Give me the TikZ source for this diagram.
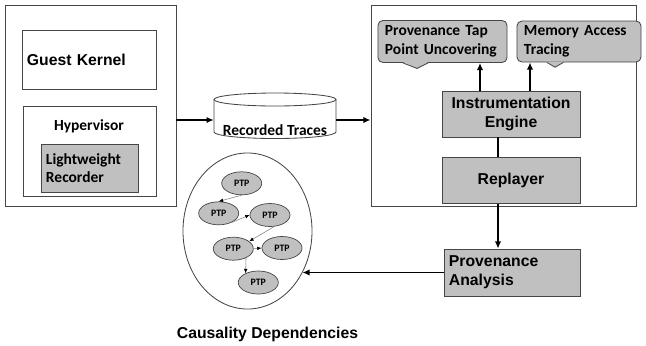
\documentclass[tikz,border=0pt]{standalone}
\usepackage{fontspec}
\setmainfont{Liberation Sans}
\newfontfamily\calibrifont{Carlito}
\usepackage{xcolor}
\usepackage{tikz}
\usetikzlibrary{arrows.meta,positioning,shapes.geometric}
\definecolor{rredge}{RGB}{70,70,70}
\definecolor{rrfill}{RGB}{192,192,192}
\definecolor{rrdep}{RGB}{130,130,130}
\tikzset{
  rrbox/.style={
    draw=rredge, line width=0.6pt, inner sep=0pt, align=center
  },
  outer/.style={rrbox, fill=white},
  gbox/.style={rrbox, fill=rrfill},
  arl/.style={font=\bfseries\fontsize{11.2}{13.6}\selectfont},
  cal/.style={font=\calibrifont\bfseries\fontsize{11}{13.3}\selectfont},
  tip/.style={
    gbox, cal, rounded corners=3.5pt, align=left, inner xsep=0.175cm
  },
  wedge/.style={fill=rrfill},
  wedgeline/.style={draw=rredge, line width=0.6pt, line join=round},
  ptp/.style={
    ellipse, draw=rredge, line width=0.5pt, fill=rrfill, inner sep=0pt,
    minimum width=1cm, minimum height=0.575cm,
    font=\calibrifont\bfseries\fontsize{7}{8}\selectfont
  },
  cyl/.style={draw=rredge, line width=0.6pt, fill=white},
  arr/.style={-{Latex[length=1.8mm,width=1.6mm]}, draw=black, line width=1.2pt},
  dep/.style={-{Latex[length=1.1mm,width=0.9mm,color=black]}, draw=rrdep, line width=0.4pt}
}

\begin{document}
\begin{tikzpicture}[x=0.025cm, y=0.025cm, node distance=0.5cm]
  \useasboundingbox (0,0) rectangle (646,-345);
  % RECORDING
  \node[outer, minimum width=4.275cm, minimum height=5.025cm] (vm) at (90.5,-105.5) {};
  \node[outer, arl, minimum width=3.35cm, minimum height=1.475cm, text width=3.1cm,
    inner xsep=0.125cm, align=left] (guest) at (89,-59.5) {Guest Kernel};
  \node[outer, minimum width=3.325cm, minimum height=2.25cm] (hyp) at (89.5,-151) {};
  \node[cal, anchor=base] (hyplbl) at (89,-130.5) {Hypervisor};
  \node[gbox, cal, minimum width=2.425cm, minimum height=1.2cm, text width=2.175cm,
    inner xsep=0.125cm, align=left] (lwr) at (89.5,-168) {Lightweight\\Recorder};
  % TRACES
  \node[minimum width=3.05cm, minimum height=1cm, inner sep=0pt] (rec) at (275,-120) {};
  \draw[cyl] (214,-99.5) -- (214,-132)
    arc[start angle=180, end angle=360, x radius=1.525cm, y radius=0.1625cm] -- (336,-99.5);
  \draw[cyl] (275,-99.5) ellipse[x radius=1.525cm, y radius=0.1625cm];
  \node[cal, anchor=base] (rectxt) at (275,-135) {Recorded Traces};
  % REPLAY
  \node[outer, minimum width=6.625cm, minimum height=5.025cm] (rb) at (503.5,-105.5) {};
  \node[tip, minimum width=3.225cm, minimum height=1.05cm, text width=2.875cm]
    (ptap) at (442.5,-41.5) {Provenance Tap\\Point Uncovering};
  \fill[wedge] ([xshift=-0.9875cm, yshift=0.6pt]ptap.south)
    -- ([xshift=-0.6375cm, yshift=-0.1375cm]ptap.south)
    -- ([xshift=-0.3625cm, yshift=0.6pt]ptap.south) -- cycle;
  \draw[wedgeline] ([xshift=-0.9875cm]ptap.south)
    -- ([xshift=-0.6375cm, yshift=-0.1375cm]ptap.south)
    -- ([xshift=-0.3625cm]ptap.south);
  \node[tip, minimum width=3.1cm, minimum height=1.025cm, text width=2.75cm]
    (mat) at (579,-41.5) {Memory Access\\Tracing};
  \fill[wedge] ([xshift=-0.8cm, yshift=0.6pt]mat.south)
    -- ([xshift=-0.6cm, yshift=-0.12cm]mat.south)
    -- ([xshift=-0.39cm, yshift=0.6pt]mat.south) -- cycle;
  \draw[wedgeline] ([xshift=-0.8cm]mat.south)
    -- ([xshift=-0.6cm, yshift=-0.12cm]mat.south)
    -- ([xshift=-0.39cm]mat.south);
  \node[gbox, arl, minimum width=3.45cm, minimum height=1.15cm] (ie) at (511,-114)
    {Instrumentation\\Engine};
  \node[gbox, arl, minimum width=3.45cm, minimum height=1.15cm, below=0.5cm of ie] (rep)
    {Replayer};
  \node[gbox, arl, minimum width=3.4cm, minimum height=1.175cm, text width=3.15cm,
    inner xsep=0.125cm, align=left] (pa) at (512,-272.5) {Provenance\\Analysis};
  % CAUSALITY
  \node[ellipse, draw=rredge, line width=0.6pt, minimum width=3.225cm,
    minimum height=3.9cm, inner sep=0pt] (caus) at (247.5,-231) {};
  \node[ptp] (p1) at (241.7,-183.3) {PTP};
  \node[ptp] (p2) at (218.7,-213.3) {PTP};
  \node[ptp] (p3) at (270,-215) {PTP};
  \node[ptp] (p4) at (233.3,-248.7) {PTP};
  \node[ptp] (p5) at (282,-248) {PTP};
  \node[ptp] (p6) at (258.3,-282.5) {PTP};
  \node[arl, anchor=base] (causlbl) at (267.5,-338) {Causality Dependencies};
  % flow
  \draw[arr] (vm.east |- rec.west) -- (rec.west);
  \draw[arr] (rec.east) -- (rec.east -| rb.west);
  \draw[arr] ([xshift=-0.775cm]ie.north) -- ([xshift=-0.775cm]ie.north |- ptap.south);
  \draw[arr] ([xshift=0.475cm]ie.north) -- ([xshift=0.475cm]ie.north |- mat.south);
  \draw[line width=0.8pt] ([xshift=-0.325cm]ie.south) -- ([xshift=-0.325cm]rep.north);
  \draw[arr, line width=0.9pt] ([xshift=-0.325cm]rep.south)
    -- ([xshift=-0.325cm]rep.south |- pa.north);
  \draw[arr] (pa.west) -- ([xshift=-0.25cm]pa.west -| caus.east);
  \draw[dep] (p1.south) -- (p2.north);
  \draw[dep] (p2.-36) -- (p3.west);
  \draw[dep] (p3.-70) -- (p4.25);
  \draw[dep] (p4.east) -- (p5.west);
  \draw[dep] (p4.-36) -- (p6.144);
\end{tikzpicture}
\end{document}
